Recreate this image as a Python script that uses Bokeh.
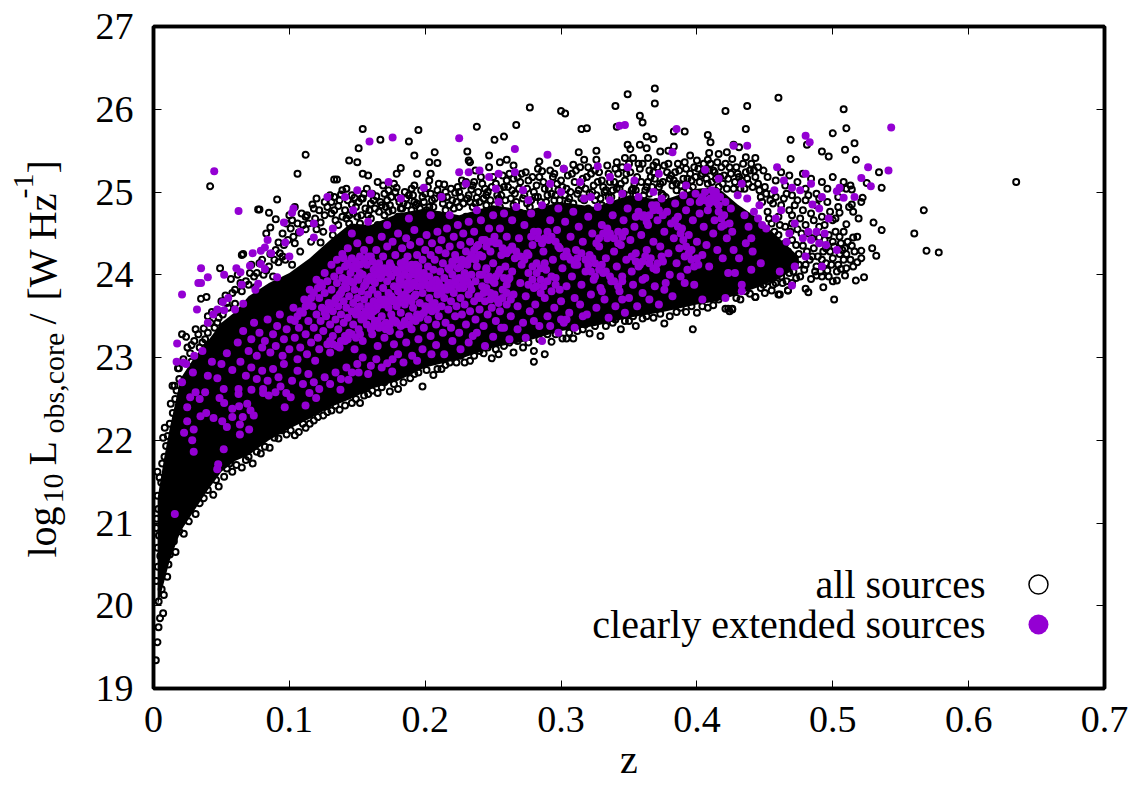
from math import pi
from bokeh.embed import file_html
from bokeh.layouts import row
from bokeh.models import Label, LinearAxis, FixedTicker
from bokeh.plotting import figure
from bokeh.resources import INLINE
from bokeh.core.properties import value

# Envelope of the part of the "all sources" cloud that is solid black
core_z = [.003,.008,.012,.02,.03,.04,.05,.06,.07,.085,.10,.115,.13,.145,.16,.18,.20,.225,.25,.275,.30,.325,.35,.375,.40,.415,.43,.445,.46,.475]
core_lo = [20.0,20.3,20.55,20.9,21.15,21.4,21.62,21.75,21.82,22.0,22.14,22.26,22.4,22.5,22.62,22.72,22.88,22.98,23.12,23.2,23.32,23.38,23.48,23.55,23.64,23.68,23.76,23.85,23.95,24.1]
core_hi = [21.3,21.8,22.15,22.75,23.0,23.2,23.42,23.55,23.74,23.9,24.02,24.2,24.42,24.62,24.6,24.74,24.8,24.72,24.84,24.78,24.88,24.82,24.96,24.9,25.04,25.06,24.85,24.68,24.45,24.22]

# Open circles that can be told apart: (z, log10 L)
all_sources = [
(.460,26.14),(.421,25.98),(.437,26.04),(.508,26.00),(.436,25.76),(.510,25.77),(.500,25.71),(.408,25.69),(.410,25.60),
(.469,25.63),(.481,25.57),(.516,25.59),(.509,25.51),(.492,25.49),(.497,25.43),(.517,25.39),(.534,25.24),(.525,25.11),
(.536,25.05),(.567,24.78),(.560,24.50),(.569,24.29),(.578,24.27),(.635,25.12),(.530,24.63),(.536,24.54),(.529,24.32),
(.532,24.23),(.523,23.97),(.517,23.93),(.509,23.99),(.501,23.70),(.493,23.85),(.519,24.68),(.510,24.61),(.522,24.93),
(.521,24.88),(.514,25.03),(.513,25.08),(.508,25.12),(.506,25.05),(.510,25.04),(.514,24.85),(.515,24.76),(.512,24.82),
(.505,24.75),(.518,24.46),(.515,24.45),(.521,24.29),(.521,24.20),(.518,24.15),(.515,24.10),(.510,24.08),(.506,24.07),
(.503,23.93),(.500,23.92),(.488,23.99),(.492,23.98),(.497,23.98),(.480,23.83),(.482,23.79),(.467,23.81),(.461,23.76),
(.443,23.73),(.439,23.77),(.455,23.81),(.426,23.58),(.423,23.59),(.424,23.56),
(.0417,25.07),(.112,25.45),(.106,25.22),(.154,25.76),(.167,25.63),(.151,25.53),(.195,25.75),(.188,25.61),(.192,25.44),
(.207,25.48),(.203,25.36),(.209,25.35),(.144,25.38),(.150,25.36),(.154,25.22),(.158,25.20),(.182,25.29),(.179,25.22),
(.194,25.22),(.231,25.49),(.232,25.38),(.133,25.15),(.135,25.15),(.142,25.04),(.091,24.91),(.077,24.79),(.078,24.79),
(.085,24.75),(.090,24.67),(.133,24.94),(.138,24.97),(.148,24.93),(.154,24.92),(.165,25.12),(.173,25.02),(.179,25.05),
(.192,25.08),(.204,25.22),(.203,25.14),(.214,25.09),(.228,25.08),(.117,24.85),(.118,24.80),(.109,24.74),(.113,24.72),
(.104,24.82),(.100,24.72),(.086,24.57),(.083,24.50),(.101,24.56),(.095,24.50),(.092,24.39),(.103,24.46),(.107,24.51),
(.123,24.63),(.126,24.72),(.123,24.39),(.065,24.24),(.066,24.25),(.049,24.08),(.057,23.95),(.076,24.02),(.060,23.82),
(.053,23.75),(.035,23.71),(.039,23.73),(.031,23.34),(.021,23.28),(.024,23.25),(.038,23.22),(.036,23.18),(.018,22.87),
(.028,23.15),(.033,23.28),(.042,23.42),(.046,23.55),(.050,23.68),(.045,23.36),(.040,23.50),(.028,22.95),
(.0155,22.66),(.014,22.66),(.0127,22.44),(.0142,22.33),(.0187,22.87),(.0083,22.15),(.0071,22.03),(.0093,21.93),(.0081,21.80),
(.0064,21.72),(.0029,21.62),(.0057,21.49),(.003,21.33),(.0035,21.17),(.0024,21.05),(.002,20.94),(.003,20.70),(.0032,20.47),
(.002,20.30),(.0038,20.05),(.0048,19.85),(.0071,19.91),(.0037,19.74),(.0029,19.56),(.0017,19.34),(.006,20.2),(.005,20.6),
(.004,20.85),(.008,21.15),(.0075,20.75),(.0065,20.95),(.0045,21.55),(.0105,22.05),(.012,22.2),(.016,22.5),
(.0162,20.65),(.0101,20.35),(.011,20.50),(.0076,20.13),(.0223,20.87),(.031,21.11),(.037,21.30),(.044,21.34),(.048,21.44),
(.052,21.56),(.065,21.67),(.073,21.72),(.079,21.84),(.0855,21.91),(.089,22.03),(.098,22.07),(.107,22.10),(.112,22.15),
(.125,22.30),(.137,22.37),(.146,22.45),(.152,22.45),(.165,22.57),(.174,22.59),(.180,22.62),(.198,22.65),(.189,22.75),
(.206,22.79),(.215,22.91),(.223,22.94),(.229,22.94),(.058,21.62),(.070,21.80),(.094,22.12),(.118,22.24),(.131,22.36),
(.158,22.56),(.170,22.70),(.195,22.82),(.212,22.86),(.220,23.0),(.236,23.02),
(.369,26.25),(.349,26.18),(.369,26.07),(.340,26.04),(.277,26.02),(.300,25.98),(.303,25.95),(.358,25.92),(.360,25.84),
(.315,25.76),(.319,25.77),(.341,25.79),(.383,25.73),(.391,25.73),(.238,25.79),(.267,25.81),(.251,25.63),(.258,25.67),
(.363,25.67),(.368,25.64),(.349,25.57),(.351,25.52),(.358,25.57),(.363,25.53),(.383,25.55),(.373,25.49),(.379,25.50),
(.313,25.48),(.326,25.50),(.326,25.39),(.317,25.39),(.247,25.44),(.247,25.30),(.284,25.37),(.297,25.35),(.309,25.33),
(.260,25.39),(.255,25.36),(.265,25.32),(.233,25.36),(.237,25.26),(.347,25.41),(.353,25.41),(.341,25.36),(.409,25.47),
(.408,25.39),(.395,25.44),(.427,25.57),(.431,25.54),(.416,25.46),(.422,25.48),(.364,25.41),(.368,25.32),(.443,25.41),
(.436,25.42),(.449,25.26),(.469,25.40),
(.280,22.95),(.288,23.04),(.249,22.99),(.254,23.04),(.243,23.05),(.233,22.96),(.280,23.08),(.293,23.19),(.301,23.23),
(.304,23.23),(.309,23.23),(.329,23.26),(.321,23.29),(.344,23.34),(.355,23.38),(.376,23.41),(.397,23.34),(.360,23.47),
(.400,23.54),(.421,23.59),(.426,23.59),(.443,23.73),(.460,23.76),(.467,23.81),(.412,23.63),(.385,23.55),(.373,23.53),
(.265,23.06),(.272,23.12),(.316,23.34),(.338,23.42),(.350,23.44),(.392,23.55),(.408,23.60),(.432,23.70),(.450,23.78),
# lower edge
(.054,21.66),(.061,21.70),(.068,21.76),(.076,21.86),(.082,21.92),(.092,22.02),(.101,22.12),(.104,22.06),(.110,22.20),(.115,22.20),
(.121,22.28),(.128,22.34),(.134,22.42),(.141,22.42),(.149,22.50),(.155,22.54),(.161,22.60),(.168,22.64),(.177,22.68),(.184,22.70),
(.192,22.80),(.201,22.85),(.209,22.86),(.218,22.94),(.226,23.02),(.240,23.08),(.246,23.12),(.252,23.10),(.258,23.14),(.262,23.18),
(.268,23.20),(.276,23.18),(.284,23.22),(.290,23.28),(.296,23.28),(.306,23.30),(.312,23.32),(.318,23.40),(.325,23.38),(.333,23.38),
(.340,23.46),(.347,23.44),(.353,23.50),(.363,23.50),(.368,23.48),(.380,23.50),(.388,23.60),(.396,23.62),(.404,23.62),(.416,23.70),
(.429,23.72),(.436,23.80),(.447,23.84),(.456,23.88),(.463,23.90),(.473,23.96),(.012,20.62),(.015,20.78),(.019,20.90),(.026,21.02),
(.034,21.24),(.040,21.40),(.046,21.52),(.056,21.72),
# upper band
(.112,24.70),(.120,24.92),(.128,24.82),(.131,24.74),(.136,24.83),(.141,24.78),(.146,24.85),(.150,24.70),(.156,24.80),
(.160,24.86),(.164,24.95),(.168,24.84),(.172,24.90),(.176,24.78),(.180,24.93),(.184,24.86),(.188,24.96),(.192,24.88),
(.196,24.80),(.200,24.98),(.205,24.90),(.209,25.02),(.213,24.92),(.218,24.84),(.222,24.99),(.226,24.94),(.230,25.12),
(.234,25.03),(.238,24.93),(.242,25.10),(.246,25.00),(.250,25.18),(.254,24.92),(.258,25.06),(.262,25.22),(.266,24.98),
(.270,25.12),(.274,25.24),(.278,24.90),(.282,25.08),(.286,25.25),(.290,24.96),(.294,25.18),(.298,25.02),(.302,25.28),
(.306,24.92),(.310,25.12),(.314,25.30),(.318,25.04),(.322,25.22),(.326,24.96),(.330,25.14),(.334,25.32),(.338,25.02),
(.342,25.22),(.346,24.98),(.350,25.34),(.354,25.10),(.358,25.28),(.362,25.02),(.366,25.18),(.370,25.36),(.374,24.98),
(.378,25.24),(.382,25.08),(.386,25.34),(.390,25.16),(.394,25.02),(.398,25.30),(.402,25.12),(.406,25.24),(.410,25.34),
(.414,25.16),(.418,25.30),(.422,25.04),(.426,25.40),(.430,25.22),(.434,25.34),(.438,25.10),(.442,25.26),(.446,25.02),
(.090,24.30),(.095,24.22),(.098,24.62),(.104,24.38),(.108,24.28),(.112,24.55),(.116,24.40),(.120,24.55),(.125,24.52),
(.128,24.30),(.132,24.48),(.136,24.60),(.140,24.42),(.144,24.62),(.148,24.52),(.152,24.62),(.156,24.50),(.160,24.68),
(.165,24.60),(.170,24.72),(.175,24.62),(.180,24.70),(.185,24.65),(.190,24.78),(.195,24.68),(.200,24.72),(.210,24.72),
(.215,24.78),(.220,24.68),(.225,24.82),(.230,24.70),(.235,24.82),(.240,24.72),(.245,24.84),(.250,24.72),(.255,24.82),
(.260,24.70),(.265,24.84),(.270,24.75),(.275,24.86),(.280,24.72),(.285,24.88),(.290,24.76),(.295,24.90),(.300,24.80),
(.305,24.88),(.310,24.78),(.315,24.92),(.320,24.80),(.325,24.90),(.330,24.84),(.335,24.94),(.340,24.82),(.345,24.92),
(.350,24.84),(.355,24.96),(.360,24.86),(.365,24.98),(.370,24.88),(.375,24.96),(.380,24.88),(.385,25.02),(.390,24.92),
(.040,23.30),(.048,23.48),(.055,23.60),(.060,23.65),(.065,23.80),(.070,23.88),(.072,24.12),(.075,23.85),(.080,24.18),
(.083,24.05),(.086,24.25),(.088,23.98),(.092,24.15),(.097,24.18),(.102,24.12),
# upper band, second reading
(.122,24.78),(.126,24.88),(.130,24.96),(.134,24.66),(.139,24.70),(.143,24.90),(.147,24.74),(.151,24.88),(.155,24.98),(.158,24.72),
(.162,24.90),(.166,24.76),(.170,24.98),(.174,24.84),(.178,25.00),(.182,24.80),(.186,24.92),(.190,25.04),(.194,24.86),(.198,24.94),
(.202,25.06),(.206,24.82),(.211,24.96),(.215,25.00),(.220,24.90),(.224,25.06),(.228,24.86),(.232,24.96),(.236,25.12),(.240,24.88),
(.244,25.04),(.248,24.90),(.252,25.10),(.256,24.96),(.260,25.14),(.264,25.02),(.268,25.18),(.272,24.92),(.276,25.14),(.280,25.00),
(.284,25.18),(.288,25.04),(.292,25.26),(.296,24.96),(.300,25.14),(.304,25.04),(.308,25.22),(.312,24.98),(.316,25.16),(.320,25.30),
(.324,25.08),(.328,25.24),(.332,25.00),(.336,25.12),(.340,25.28),(.344,25.10),(.348,25.22),(.352,25.02),(.356,25.18),(.360,25.34),
(.364,25.12),(.368,25.24),(.372,25.06),(.376,25.32),(.380,25.16),(.384,25.24),(.388,25.08),(.392,25.28),(.396,25.14),(.400,25.38),
(.404,25.22),(.408,25.10),(.412,25.26),(.416,25.06),(.420,25.20),(.424,25.30),(.428,25.12),(.432,25.04),(.436,25.24),(.440,25.34),
(.119,24.68),(.114,24.62),(.110,24.60),(.106,24.62),(.102,24.66),(.099,24.42),(.096,24.36),(.093,24.26),(.089,24.18),(.085,24.10),
(.081,24.00),(.078,24.14),(.074,23.98),(.071,24.02),(.068,23.92),(.064,23.90),(.062,24.00),(.058,23.78),(.054,23.66),(.051,23.52),
(.047,23.42),(.043,23.55),(.037,23.35),(.034,23.12),(.030,23.20),(.027,23.05),(.025,23.12),(.022,22.98),(.019,22.74),(.017,22.60),
(.142,24.68),(.153,24.72),(.163,24.80),(.173,24.76),(.183,24.80),(.193,24.84),(.203,24.82),(.213,24.86),(.223,24.88),(.233,24.88),
(.243,24.92),(.253,24.96),(.263,24.92),(.273,24.96),(.283,24.94),(.293,24.98),(.303,24.96),(.313,25.02),(.323,25.00),(.333,25.02),
(.343,25.04),(.353,25.04),(.363,25.06),(.373,25.10),(.383,25.14),(.393,25.16),(.403,25.20),(.413,25.24),(.423,25.16),(.433,25.14),
# upper band, third reading: clusters
(.131,24.88),(.133,24.78),(.137,24.90),(.139,25.02),(.144,24.72),(.146,24.96),(.149,24.82),(.153,24.92),(.157,25.04),(.159,24.78),
(.161,24.98),(.167,24.88),(.169,25.08),(.171,24.82),(.175,24.94),(.177,25.10),(.181,24.88),(.185,25.00),(.187,24.84),(.191,24.96),
(.197,25.02),(.199,24.88),(.201,24.78),(.204,24.98),(.207,24.92),(.210,25.10),(.216,24.94),(.219,25.04),(.221,24.80),(.225,25.00),
(.227,25.14),(.231,24.92),(.235,25.08),(.237,24.86),(.239,25.00),(.241,25.18),(.245,24.96),(.249,25.06),(.251,24.84),(.255,25.04),
(.257,25.20),(.259,24.90),(.261,25.06),(.265,25.16),(.267,24.88),(.269,25.04),(.271,25.22),(.275,25.04),(.277,24.82),(.279,25.18),
(.281,24.94),(.283,25.28),(.287,25.12),(.289,24.88),(.291,25.04),(.295,25.22),(.297,25.10),(.299,24.90),(.301,25.06),(.305,25.20),
(.307,25.00),(.309,24.86),(.311,25.26),(.315,25.08),(.317,24.90),(.319,25.18),(.321,24.98),(.325,25.26),(.327,25.12),(.329,24.92),
(.331,25.06),(.335,25.22),(.337,24.94),(.339,25.12),(.341,25.04),(.345,25.30),(.347,25.14),(.349,24.96),(.351,25.24),(.355,25.02),
(.357,25.34),(.359,25.12),(.361,24.96),(.365,25.26),(.367,25.06),(.369,25.16),(.371,25.30),(.375,25.12),(.377,24.94),(.379,25.34),
(.381,25.20),(.385,25.10),(.387,25.26),(.389,25.00),(.391,25.36),(.395,25.22),(.397,25.06),(.399,25.18),(.401,25.28),(.405,25.34),
(.407,25.16),(.409,25.26),(.411,25.12),(.415,25.36),(.417,25.18),(.419,25.10),(.421,25.34),(.425,25.22),(.427,25.04),(.429,25.30),
(.431,25.18),(.435,25.04),(.437,25.16),(.439,25.26),(.441,25.06),(.443,25.18),(.445,25.30),
# right-hand cloud
(.445,25.10),(.450,25.06),(.455,24.98),(.452,25.18),(.458,25.14),(.462,25.24),(.465,25.08),(.468,25.20),(.470,24.96),
(.474,25.12),(.478,25.22),(.480,25.04),(.484,25.16),(.488,24.98),(.492,25.12),(.496,25.04),(.500,25.18),(.504,24.94),
(.448,24.88),(.452,24.76),(.456,24.86),(.460,24.70),(.464,24.92),(.468,24.78),(.472,24.84),(.476,24.68),(.480,24.90),
(.484,24.74),(.488,24.84),(.492,24.70),(.496,24.88),(.500,24.66),(.504,24.82),(.508,24.52),
(.450,24.55),(.455,24.62),(.460,24.48),(.465,24.58),(.470,24.42),(.474,24.55),(.478,24.35),(.482,24.50),(.486,24.32),
(.490,24.58),(.494,24.42),(.498,24.28),(.502,24.52),(.506,24.38),(.510,24.25),(.514,24.35),(.516,24.28),
(.452,24.28),(.456,24.18),(.460,24.08),(.464,24.20),(.468,24.02),(.472,24.16),(.476,23.98),(.480,24.12),(.484,23.95),
(.488,24.10),(.492,24.18),(.496,24.05),(.500,24.20),(.504,24.12),(.508,24.18),(.448,24.00),(.452,23.92),(.458,23.90),
(.470,23.90),(.475,24.25),(.485,24.22),(.495,24.32),(.505,24.25),(.490,24.45),(.480,24.60),(.470,24.62),(.500,24.40),
(.447,24.94),(.451,24.98),(.454,24.90),(.458,24.94),(.462,24.84),(.466,24.98),(.470,24.72),(.474,24.90),(.478,24.78),(.482,24.96),
(.486,24.66),(.490,24.92),(.494,24.60),(.498,24.76),(.502,24.68),(.453,24.68),(.457,24.52),(.461,24.60),(.465,24.38),(.469,24.52),
(.473,24.36),(.477,24.50),(.481,24.28),(.485,24.44),(.489,24.22),(.493,24.28),(.497,24.48),(.501,24.34),(.505,24.46),(.509,24.32),
(.455,24.34),(.459,24.26),(.463,24.14),(.467,24.28),(.471,24.04),(.475,24.12),(.479,24.06),(.483,24.18),(.487,24.04),(.491,24.04),
(.495,24.14),(.499,24.12),(.503,24.04),(.507,24.30),(.511,24.40),(.513,24.18),(.449,23.88),(.454,23.96),(.462,23.98),(.466,23.92),
]

# Filled violet circles: (z, log10 L)
extended_sources = [
(.0447,25.25),(.0626,24.77),(.159,25.61),(.176,25.66),(.225,25.65),(.225,25.24),(.199,25.05),(.173,25.12),(.141,24.94),
(.096,24.63),(.103,24.80),(.102,24.75),(.073,24.26),(.035,24.08),(.052,24.00),(.040,23.97),(.035,23.90),(.033,23.90),
(.021,23.76),(.032,23.58),(.0174,23.17),(.022,22.94),(.084,24.42),(.082,24.33),(.0866,24.26),(.079,24.29),(.097,24.39),
(.100,24.22),(.064,24.03),(.061,24.08),(.079,24.13),(.082,24.07),(.071,24.11),(.091,23.97),(.065,23.88),(.077,23.89),
(.075,23.82),(.051,23.67),(.055,23.72),(.047,23.58),(.052,23.57),(.060,23.58),(.066,23.65),(.044,23.52),(.040,23.42),
(.0157,21.11),(.0296,21.86),(.0285,22.0),(.0225,22.09),(.0296,22.13),(.0248,22.23),(.0346,22.29),(.0388,22.33),(.0248,22.40),
(.0442,22.27),(.0469,21.65),(.0476,21.71),(.0517,21.89),(.054,22.16),(.0506,22.23),(.058,22.28),(.0636,22.19),(.0636,22.07),
(.0704,22.13),(.0657,22.28),(.0738,22.30),(.0714,22.36),(.069,22.44),(.063,22.41),(.058,22.38),(.052,22.45),(.0486,22.51),
(.0517,22.62),(.0626,22.62),(.0626,22.56),(.0721,22.61),(.0807,22.62),(.0807,22.57),(.0848,22.54),(.0898,22.58),(.0935,22.65),
(.0977,22.57),(.101,22.52),(.0966,22.40),(.1119,22.42),(.1148,22.57),(.1197,22.51),(.1376,22.61),(.1436,22.73),(.158,22.80),
(.151,22.82),(.1757,22.83),(.172,22.93),(.2046,23.04),(.194,22.96),(.1904,23.02),(.021,22.70),(.027,22.52),(.031,22.58),
(.034,22.50),(.038,22.58),(.029,22.82),(.024,22.92),(.017,22.95),(.030,23.02),(.036,23.08),(.043,22.95),(.040,22.78),
(.047,22.75),(.050,22.92),(.054,23.05),(.058,22.85),(.064,22.95),(.068,22.78),(.072,22.88),(.076,22.74),(.080,22.84),
(.084,22.72),(.088,22.86),(.092,22.76),(.096,22.92),(.102,22.72),(.106,22.84),(.110,22.68),(.114,22.80),(.118,22.70),
(.122,22.62),(.126,22.76),(.130,22.68),(.134,22.82),(.138,22.74),(.142,22.88),(.146,22.82),(.150,22.92),(.154,23.0),
(.160,22.90),(.164,22.98),(.168,22.88),(.176,22.98),(.180,23.04),(.184,22.94),(.198,23.10),(.208,23.15),(.214,23.04),
(.220,23.20),(.226,23.10),(.232,23.18),(.238,23.30),(.244,23.14),(.250,23.25),(.256,23.36),(.262,23.22),(.268,23.34),
(.274,23.24),(.280,23.44),(.286,23.20),(.292,23.38),(.298,23.30),(.304,23.46),(.310,23.36),(.316,23.50),
# dense lobe, left part
(.062,23.18),(.066,23.32),(.070,23.08),(.072,23.22),(.074,23.42),(.076,23.02),(.078,23.30),(.080,23.12),(.082,23.20),
(.084,23.46),(.086,23.06),(.088,23.28),(.090,23.14),(.091,23.38),(.093,23.52),(.095,23.02),(.096,23.22),(.098,23.34),
(.100,23.10),(.101,23.46),(.103,23.60),(.104,23.24),(.106,22.98),(.107,23.36),(.108,23.12),(.110,23.54),(.111,23.70),
(.112,23.28),(.113,23.04),(.114,23.44),(.115,23.82),(.116,23.18),(.117,23.62),(.118,23.36),(.119,22.96),(.120,23.52),
(.120,23.94),(.121,23.24),(.122,23.72),(.122,23.10),(.123,23.44),(.124,23.86),(.124,23.60),(.125,23.32),(.126,24.02),
(.126,23.78),(.127,23.50),(.128,23.16),(.128,23.92),(.129,23.66),(.130,23.40),(.130,23.06),(.131,24.12),(.131,23.82),
(.132,23.56),(.132,23.26),(.133,23.98),(.134,23.70),(.134,23.46),(.135,24.18),(.135,23.90),(.136,23.62),(.136,23.34),
(.137,23.12),(.137,24.05),(.138,23.78),(.138,23.52),(.139,24.25),(.139,23.96),(.140,23.68),(.140,23.42),(.141,23.20),
(.141,24.10),(.142,23.84),(.142,23.60),(.143,24.32),(.143,23.48),(.144,23.74),(.144,23.30),(.145,24.02),(.145,23.92),
(.146,23.56),(.146,24.20),(.147,23.66),(.147,23.40),(.148,23.82),(.148,23.10),(.149,24.08),(.149,23.52),(.150,23.72),
(.150,24.38),(.151,23.94),(.151,23.34),(.152,23.62),(.152,24.22),(.153,23.80),(.153,23.46),(.154,24.00),(.154,23.20),
(.155,23.70),(.155,24.30),(.156,23.56),(.156,23.88),(.157,24.12),(.157,23.40),(.158,23.76),(.158,23.62),(.159,24.42),
(.159,23.96),(.160,23.50),(.160,24.22),(.161,23.82),(.161,23.28),(.162,23.68),(.162,24.06),(.163,23.44),(.163,23.90),
(.164,24.30),(.164,23.58),(.165,23.76),(.165,23.14),(.166,24.14),(.166,23.36),(.167,23.96),(.167,23.64),(.168,24.46),
(.168,23.50),(.169,23.84),(.169,24.22),(.170,23.70),(.170,23.24),(.171,24.04),(.171,23.42),(.172,23.92),(.172,24.34),
(.173,23.60),(.173,23.78),(.174,24.14),(.174,23.32),(.175,23.52),(.175,23.98),(.176,24.40),(.176,23.68),(.177,23.86),
(.177,23.16),(.178,24.24),(.178,23.44),(.179,24.04),(.179,23.62),(.180,23.80),(.180,24.50),(.181,23.28),(.181,23.94),
(.182,24.14),(.182,23.54),(.183,23.72),(.183,24.32),(.184,23.88),(.184,23.40),(.185,24.06),(.185,23.64),(.186,24.44),
(.186,23.18),(.187,23.82),(.187,24.22),(.188,23.50),(.188,23.98),(.189,23.70),(.189,24.36),(.190,24.12),(.190,23.34),
(.191,23.90),(.191,23.60),(.192,24.54),(.192,24.00),(.193,23.76),(.193,23.44),(.194,24.24),(.194,23.86),(.195,23.22),
(.195,24.10),(.196,23.66),(.196,24.40),(.197,23.94),(.197,23.52),(.198,24.18),(.198,23.78),(.199,23.36),(.199,24.02),
(.200,24.30),(.200,23.62),(.201,23.88),(.201,24.48),(.202,23.46),(.202,24.10),(.203,23.72),(.203,23.98),(.204,24.24),
(.204,23.26),(.205,23.56),(.205,24.38),(.206,23.84),(.206,24.06),(.207,23.66),(.207,24.18),(.208,23.40),(.208,23.94),
(.209,24.52),(.209,23.76),(.210,24.30),(.210,23.50),(.211,24.04),(.211,23.86),(.212,23.62),(.212,24.42),(.213,23.30),
(.213,24.14),(.214,23.96),(.214,23.72),(.215,24.26),(.215,23.42),(.216,23.82),(.216,24.56),(.217,24.08),(.217,23.58),
(.218,23.90),(.218,24.34),(.219,23.68),(.219,23.36),(.220,24.16),(.220,24.00),(.221,23.78),(.221,24.46),(.222,23.50),
(.222,24.24),(.223,23.88),(.223,23.62),(.224,24.60),(.224,24.08),(.225,23.30),(.225,23.96),(.226,24.36),(.226,23.72),
(.227,24.18),(.227,23.52),(.228,23.84),(.228,24.50),(.229,24.02),(.229,23.64),(.230,24.28),(.230,23.40),(.231,23.92),
(.231,24.12),(.232,23.76),(.232,24.64),(.233,23.56),(.233,24.40),(.234,24.00),(.234,23.82),(.235,23.26),(.235,24.22),
(.236,23.68),(.236,24.52),(.237,23.92),(.237,23.46),(.238,24.10),(.238,24.34),(.239,23.74),(.240,24.00),(.240,23.58),
(.241,24.66),(.242,24.22),(.242,23.86),(.243,23.38),(.244,24.42),(.244,23.68),(.245,24.08),(.246,23.94),(.246,23.52),
(.247,24.56),(.248,24.28),(.248,23.78),(.249,23.60),(.250,24.14),(.250,24.72),(.251,23.90),(.252,23.44),(.252,24.38),
(.253,23.70),(.254,24.02),(.255,24.56),(.255,23.56),(.256,24.24),(.257,23.82),(.258,24.74),(.258,23.36),(.259,24.10),
(.260,23.64),(.260,24.46),(.261,23.94),(.262,24.30),(.263,23.50),(.264,24.66),(.264,24.04),(.265,23.76),(.266,24.20),
# dense lobe, clumped chains
(.112,23.62),(.114,23.66),(.116,23.72),(.118,23.78),(.121,23.84),(.123,23.90),(.104,23.44),(.106,23.50),(.108,23.56),
(.126,23.54),(.128,23.58),(.130,23.62),(.133,23.66),(.135,23.72),(.137,23.76),(.139,23.82),(.141,23.88),(.143,23.94),
(.130,23.20),(.132,23.16),(.135,23.14),(.138,23.20),(.141,23.26),(.143,23.22),(.146,23.28),(.149,23.24),(.152,23.28),
(.140,24.20),(.143,24.14),(.146,24.10),(.149,24.16),(.152,24.12),(.155,24.18),(.158,24.22),(.161,24.16),(.164,24.10),
(.150,23.58),(.152,23.52),(.155,23.48),(.157,23.54),(.160,23.60),(.162,23.56),(.165,23.62),(.167,23.70),(.170,23.64),
(.172,23.68),(.175,23.74),(.177,23.70),(.180,23.66),(.182,23.72),(.185,23.76),(.187,23.72),(.190,23.68),(.192,23.74),
(.168,24.00),(.170,24.08),(.173,24.02),(.175,24.10),(.178,24.06),(.180,24.02),(.183,24.10),(.185,24.16),(.188,24.10),
(.190,24.06),(.193,24.12),(.195,24.04),(.198,23.96),(.200,23.88),(.203,23.84),(.205,23.90),(.208,23.84),(.210,23.90),
(.160,23.34),(.162,23.38),(.165,23.44),(.168,23.38),(.171,23.34),(.174,23.40),(.176,23.46),(.179,23.42),(.182,23.38),
(.185,23.44),(.188,23.40),(.191,23.46),(.194,23.52),(.196,23.48),(.199,23.54),(.202,23.58),(.205,23.64),(.208,23.58),
(.212,23.78),(.214,23.84),(.217,23.90),(.219,23.84),(.222,23.92),(.225,23.84),(.228,23.90),(.230,23.96),(.233,23.88),
(.218,24.06),(.220,24.12),(.223,24.18),(.226,24.10),(.229,24.14),(.232,24.18),(.234,24.24),(.237,24.18),(.240,24.24),
(.155,23.86),(.157,23.92),(.160,23.98),(.162,23.92),(.164,24.00),(.167,24.06),(.150,23.96),(.147,23.90),(.152,24.02),
(.180,23.86),(.182,23.94),(.185,24.00),(.187,23.90),(.189,23.84),(.192,23.90),(.195,23.96),(.197,23.86),(.200,23.96),
(.242,24.00),(.245,24.06),(.247,23.98),(.250,23.92),(.252,23.98),(.255,24.06),(.258,23.96),(.260,23.88),(.262,23.96),
(.240,23.72),(.243,23.78),(.245,23.84),(.248,23.70),(.251,23.76),(.254,23.66),(.257,23.72),(.260,23.78),(.263,23.70),
(.236,24.30),(.239,24.36),(.242,24.42),(.245,24.34),(.248,24.40),(.251,24.46),(.254,24.38),(.257,24.32),(.260,24.26),
(.264,24.34),(.267,24.28),(.270,24.22),(.273,24.18),(.276,24.24),(.279,24.10),(.282,24.02),(.285,24.08),(.288,24.14),
# dense lobe, right part
(.267,24.82),(.268,23.62),(.269,24.44),(.270,23.90),(.271,24.12),(.272,23.42),(.273,24.60),(.274,23.74),(.275,24.26),
(.276,24.02),(.277,23.56),(.278,24.74),(.279,24.36),(.280,23.84),(.281,23.64),(.282,24.14),(.283,24.52),(.284,23.38),
(.285,23.94),(.286,24.84),(.287,24.28),(.288,23.72),(.289,24.06),(.290,23.50),(.291,24.42),(.292,24.66),(.293,23.80),
(.294,24.18),(.295,23.60),(.296,23.96),(.297,24.54),(.298,24.80),(.299,24.32),(.300,23.68),(.301,24.08),(.302,23.42),
(.303,24.64),(.304,23.86),(.305,24.22),(.306,23.54),(.307,24.46),(.308,23.98),(.309,24.76),(.310,23.72),(.311,24.30),
(.312,24.12),(.313,24.58),(.314,23.64),(.315,23.88),(.316,24.40),(.317,24.92),(.318,24.04),(.319,23.52),(.320,24.70),
(.321,24.24),(.322,23.76),(.323,24.50),(.324,23.94),(.325,24.14),(.326,23.60),(.327,24.82),(.328,24.34),(.329,23.84),
(.330,24.60),(.331,24.02),(.332,23.70),(.333,24.20),(.334,24.44),(.335,23.48),(.336,24.90),(.337,23.92),(.338,24.72),
(.339,24.28),(.340,23.62),(.341,24.10),(.342,24.52),(.343,23.80),(.344,24.36),(.345,23.98),(.346,24.66),(.347,23.54),
(.348,24.18),(.349,24.80),(.350,23.72),(.351,24.42),(.352,24.04),(.353,23.88),(.354,24.58),(.355,24.26),(.356,23.62),
(.357,24.94),(.358,24.12),(.359,24.48),(.360,23.78),(.361,24.72),(.362,23.96),(.363,24.30),(.364,24.60),(.365,23.70),
(.366,24.20),(.367,24.84),(.368,24.40),(.369,23.86),(.370,24.06),(.371,24.66),(.372,23.64),(.373,24.34),(.374,24.92),
(.375,24.16),(.376,24.52),(.377,23.90),(.378,24.76),(.379,24.26),(.380,24.00),(.381,24.62),(.382,23.74),(.383,24.44),
(.384,24.86),(.385,24.14),(.386,24.70),(.387,24.32),(.388,23.98),(.389,24.56),(.390,24.96),(.391,24.22),(.392,24.78),
(.393,24.06),(.394,24.48),(.395,24.88),(.396,24.30),(.397,24.66),(.398,23.88),(.399,24.98),(.400,24.40),(.401,24.12),
(.402,24.74),(.403,24.90),(.404,24.24),(.405,24.58),(.406,25.00),(.407,24.36),(.408,24.78),(.409,24.10),(.410,24.92),
(.411,25.02),(.412,24.50),(.413,24.66),(.414,25.00),(.415,24.30),(.416,24.84),(.417,24.94),(.418,24.58),(.419,24.20),
(.420,24.72),(.421,24.88),(.422,24.44),(.423,24.02),(.424,24.62),(.425,24.80),(.426,24.52),(.427,24.30),
# right part, clumped chains
(.278,24.46),(.280,24.52),(.283,24.44),(.286,24.38),(.288,24.44),(.290,24.52),(.293,24.46),(.296,24.40),(.298,24.34),
(.302,24.22),(.304,24.28),(.307,24.18),(.310,24.12),(.312,24.20),(.315,24.26),(.318,24.18),(.320,24.12),(.323,24.20),
(.326,24.38),(.328,24.44),(.331,24.50),(.334,24.56),(.336,24.50),(.339,24.44),(.342,24.38),(.345,24.46),(.347,24.52),
(.322,24.04),(.325,23.98),(.328,24.06),(.330,24.12),(.333,24.04),(.336,23.98),(.339,23.92),(.342,23.86),(.345,23.92),
(.355,24.70),(.357,24.76),(.360,24.70),(.363,24.64),(.365,24.72),(.368,24.78),(.370,24.84),(.372,24.78),(.375,24.72),
(.352,24.22),(.355,24.16),(.357,24.10),(.360,24.16),(.362,24.22),(.365,24.14),(.368,24.08),(.371,24.14),(.374,24.22),
(.384,24.66),(.386,24.58),(.388,24.50),(.390,24.42),(.392,24.34),(.394,24.26),(.396,24.18),(.398,24.10),(.400,24.20),
(.402,24.88),(.404,24.94),(.406,24.90),(.409,24.86),(.412,24.94),(.414,24.88),(.416,24.76),(.418,24.68),(.420,24.60),
(.276,23.88),(.279,23.94),(.282,23.86),(.285,23.78),(.287,23.86),(.290,23.92),(.293,23.98),(.296,23.88),(.299,23.82),
# violet points above the dense lobe and in the right-hand cloud
(.343,25.80),(.347,25.81),(.385,25.76),(.427,25.56),(.382,25.48),(.290,25.45),(.266,25.52),(.232,25.24),(.254,25.22),
(.240,25.26),(.247,25.18),(.302,25.28),(.327,25.31),(.349,25.30),(.372,25.22),(.406,25.27),(.354,25.14),(.336,25.18),
(.314,25.12),(.292,25.10),(.272,25.02),(.252,25.04),(.266,25.24),(.230,25.10),(.212,24.94),(.182,24.92),(.160,24.98),
(.147,24.78),(.128,24.94),(.150,25.02),(.118,24.62),(.108,24.52),(.118,24.45),(.132,24.56),(.146,24.50),(.158,24.64),
(.172,24.60),(.188,24.68),(.204,24.72),(.218,24.72),(.238,24.78),(.254,24.88),(.276,24.90),(.300,25.00),(.322,24.94),
(.345,24.98),(.368,25.00),(.392,25.08),(.416,25.16),(.433,25.10),(.437,25.56),(.430,24.96),(.435,24.72),(.437,24.92),
(.438,24.58),(.440,24.44),(.442,24.76),(.445,24.68),(.448,24.60),(.441,24.28),(.436,24.38),(.431,24.20),(.428,24.02),
(.433,23.88),(.440,24.06),(.446,24.84),(.457,25.02),(.459,25.30),(.464,25.14),(.470,25.05),(.476,25.02),(.480,25.22),
(.484,25.10),(.480,25.68),(.483,25.60),(.505,25.05),(.521,25.17),(.543,25.78),(.526,25.30),(.541,25.26),(.528,25.07),
(.516,24.94),(.508,24.93),(.503,25.01),(.492,24.94),(.490,24.80),(.485,24.85),(.497,24.68),(.488,24.52),(.503,24.30),
(.472,24.62),(.468,24.50),(.462,24.78),(.458,24.68),(.451,24.56),(.478,24.44),(.484,24.42),(.490,24.38),(.495,24.36),
(.466,24.40),(.472,24.10),(.480,24.22),(.492,24.10),(.461,24.04),(.447,24.14),(.482,24.52),(.494,24.50),(.470,23.87),
(.433,23.80),(.421,23.72),(.404,23.70),(.391,23.90),(.376,23.82),(.360,23.94),(.345,23.70),(.330,23.80),(.300,23.46),
]

x_ticks = [0, 0.1, 0.2, 0.3, 0.4, 0.5, 0.6, 0.7]
x_tick_labels = ["0", "0.1", "0.2", "0.3", "0.4", "0.5", "0.6", "0.7"]
y_ticks = [19, 20, 21, 22, 23, 24, 25, 26, 27]

all_z = [p[0] for p in all_sources]
all_logL = [p[1] for p in all_sources]
ext_z = [p[0] for p in extended_sources]
ext_logL = [p[1] for p in extended_sources]

SERIF = "Liberation Serif"
VIOLET = "#9400d3"
TITLE_W, TOTAL_H = 90, 784

p = figure(
    output_backend="svg", toolbar_location=None,
    frame_width=951, frame_height=662,
    min_border_left=153 - TITLE_W, min_border_right=25, min_border_top=26, min_border_bottom=TOTAL_H - 688,
    x_range=(0, 0.7), y_range=(19, 27),
    x_axis_label="z",
)
p.background_fill_color = "white"
p.grid.visible = False
p.outline_line_color = "black"
p.outline_line_width = 3.5

p.varea(core_z, core_lo, core_hi, fill_color="black")
p.scatter(all_z, all_logL, marker="circle", size=6, fill_alpha=0, line_color="black", line_width=2)
p.scatter(ext_z, ext_logL, marker="circle", size=8, fill_color=VIOLET, line_color=None)

# Legend keys
legend_z = 0.6514
p.scatter([legend_z], [20.257], marker="circle", size=19, fill_alpha=0, line_color="black", line_width=1.5)
p.scatter([legend_z], [19.773], marker="circle", size=20, fill_color=VIOLET, line_color=None)


def style(ax, standoff=18):
    ax.major_tick_in = 8
    ax.major_tick_out = 0
    ax.minor_tick_line_color = None
    ax.major_tick_line_width = 1
    ax.major_tick_line_color = "black"
    ax.axis_line_color = "black"
    ax.axis_line_width = 3.5
    ax.major_label_text_font = SERIF
    ax.major_label_text_font_size = "38px"
    ax.major_label_text_color = "black"
    ax.major_label_standoff = standoff


style(p.xaxis[0], 18)
style(p.yaxis[0], 20)
p.xaxis[0].ticker = FixedTicker(ticks=x_ticks)
p.xaxis[0].major_label_overrides = {t: l for t, l in zip(x_ticks, x_tick_labels)}
p.yaxis[0].ticker = FixedTicker(ticks=y_ticks)
p.xaxis[0].axis_label_text_font = SERIF
p.xaxis[0].axis_label_text_font_size = "40px"
p.xaxis[0].axis_label_text_font_style = "normal"
p.xaxis[0].axis_label_text_color = "black"
p.xaxis[0].axis_label_standoff = 2

top = LinearAxis(ticker=FixedTicker(ticks=x_ticks), major_label_overrides={t: "" for t in x_ticks})
right = LinearAxis(ticker=FixedTicker(ticks=y_ticks), major_label_overrides={t: "" for t in y_ticks})
style(top, 0)
style(right, 0)
p.add_layout(top, "above")
p.add_layout(right, "right")

FX, FY = 153, 688


def put(text, px, py, size, align="left"):
    p.add_layout(Label(x=px - FX, y=FY - py, x_units="screen", y_units="screen", text=text,
                       text_font=SERIF, text_font_size=f"{size}px", text_color="black",
                       text_align=align, text_baseline="alphabetic"))


put("all sources", 985, 584, 40, align="right")
put("clearly extended sources", 985, 624, 40, align="right")

# Y axis title, built from pieces to carry its sub- and superscripts; drawn in a strip left of the plot.
# Bokeh lines this strip's frame up with the main plot's, so its y range runs over the same page rows.
title_text = ["log", "10", "L", "obs,core", "/", "[W Hz", "-1", "]"]
title_x = [42, 53, 42, 53, 42, 42, 23, 42]
title_y = [557, 503, 465, 433, 324, 300, 198, 173]
title_size = [40, 30, 40, 30, 40, 40, 30, 40]

t = figure(output_backend="svg", toolbar_location=None, width=TITLE_W, height=TOTAL_H, min_border=0,
           x_range=(0, TITLE_W), y_range=(FY, 26), x_axis_location=None, y_axis_location=None)
t.grid.visible = False
t.outline_line_color = None
for txt, tx, ty, ts in zip(title_text, title_x, title_y, title_size):
    t.text([tx], [ty], text=[txt], angle=pi / 2, text_font=value(SERIF), text_font_size=value(f"{ts}px"),
           text_color="black", text_align="left", text_baseline="alphabetic")

open("out.html", "w").write(file_html(row(t, p), INLINE))
